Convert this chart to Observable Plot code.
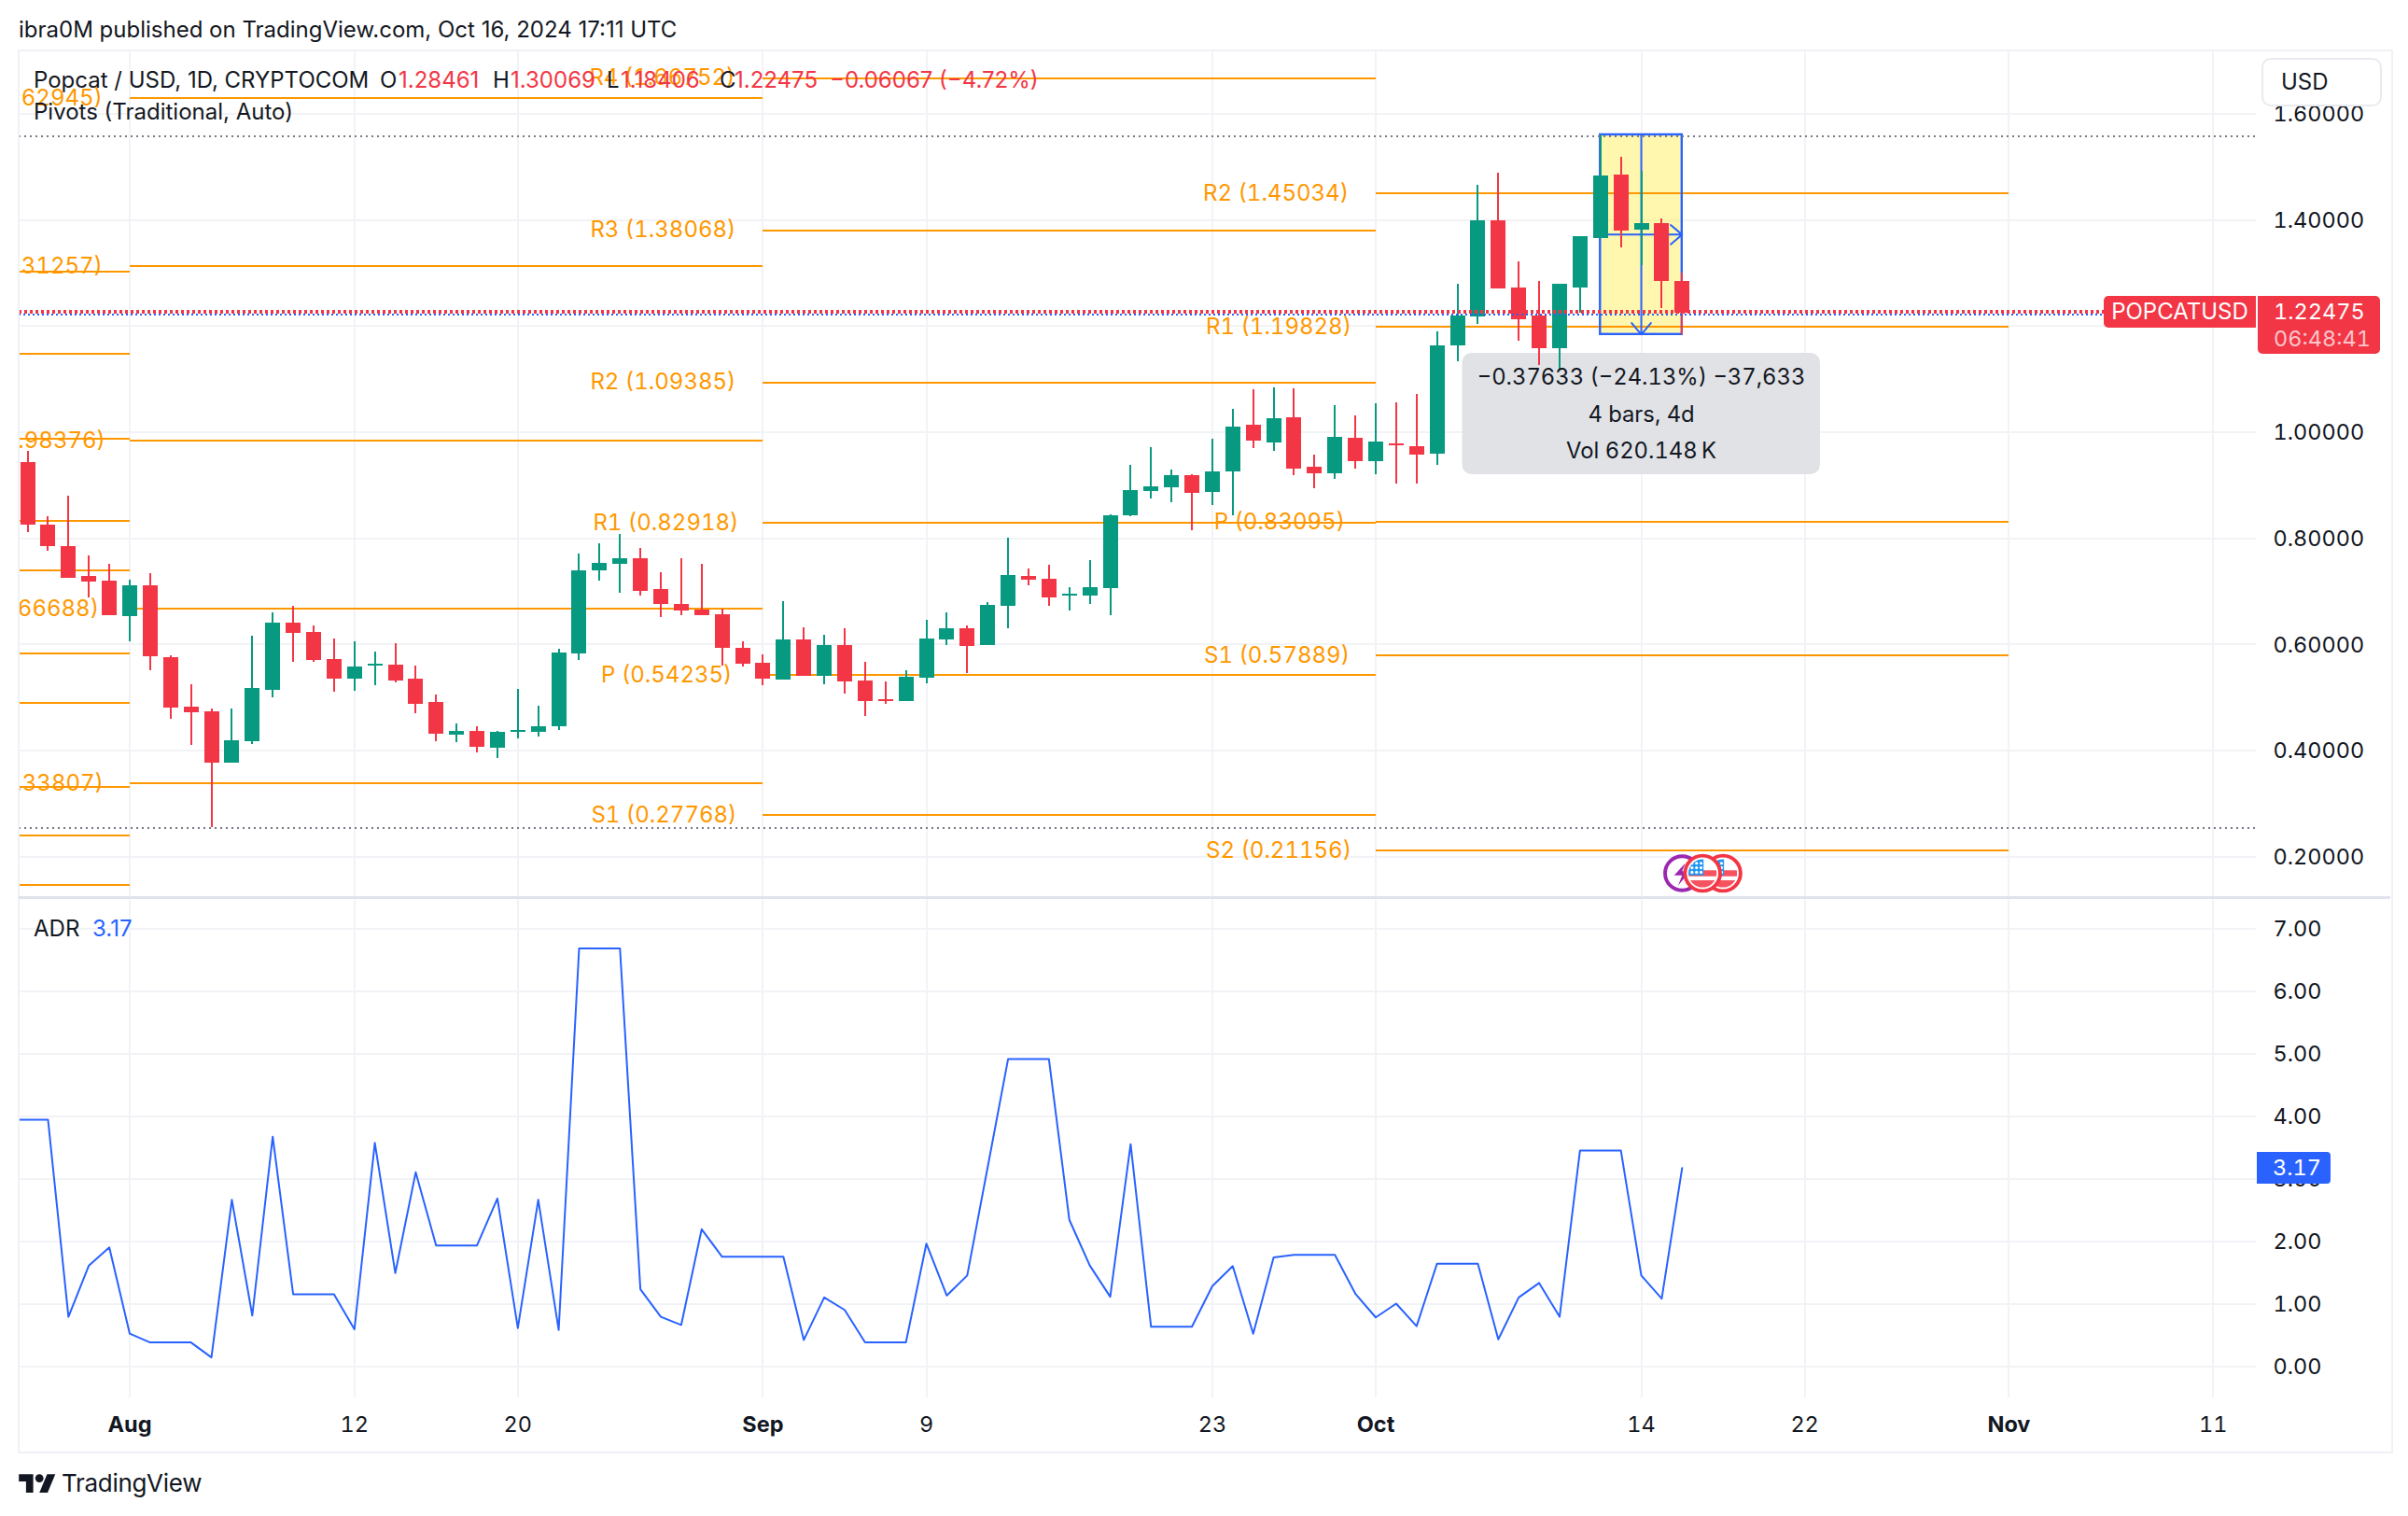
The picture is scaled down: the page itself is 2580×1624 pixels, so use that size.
<!DOCTYPE html>
<html>
<head>
<meta charset="utf-8">
<script src="https://cdn.jsdelivr.net/npm/d3@7"></script>
<script src="https://cdn.jsdelivr.net/npm/@observablehq/plot@0.6"></script>
<style>
  html,body{margin:0;padding:0;background:#fff;}
  #page{position:relative;width:2580px;height:1624px;overflow:hidden;font-family:Inter,"Noto Sans",sans-serif;color:#131722;}
  #page svg{position:absolute;left:0;overflow:visible;background:transparent;}
  .abs{position:absolute;white-space:pre;line-height:1;}
  .tag{position:absolute;background:#f23645;color:#fff;text-align:center;font-size:23.5px;box-sizing:border-box;font-variant-numeric:tabular-nums;}
  [aria-label="measure info"] rect{filter:drop-shadow(0 2px 4px rgba(0,0,0,.12));}
</style>
</head>
<body>
<div id="page"></div>
<script>
// ---- Candles: one row per day from candleStart
const candleStart = "2024-07-27";
const opens = [.943,.825,.784,.728,.719,
 .652,.710,.575,.482,.473,.376,.416,.513,.640,.622,.571,.534,.559,.561,.534,.490,.429,.436,.404,.434,.434,.445,.582,.738,.751,.761,.703,.675,.665,.656,.592,
 .564,.533,.608,.540,.598,.531,.496,.492,.536,.608,.629,.598,.672,.728,.723,.691,.691,.705,.842,.888,.895,.918,.886,.925,1.013,.980,1.027,.934,.921,.988,
 .944,.978,.973,.958,1.163,1.217,1.398,1.272,1.219,1.157,1.272,1.365,1.485,1.381,1.393,1.28461];
const highs = [.964,.840,.879,.767,.751,
 .721,.733,.578,.524,.478,.478,.615,.659,.672,.635,.610,.605,.585,.601,.559,.504,.450,.445,.436,.515,.483,.591,.770,.789,.807,.781,.735,.761,.751,.666,.605,
 .580,.680,.631,.617,.629,.566,.529,.550,.645,.659,.635,.679,.800,.742,.749,.707,.758,.844,.937,.971,.928,.920,.987,1.043,1.080,1.083,1.0815,.957,1.050,1.031,
 1.053,1.055,1.071,1.189,1.279,1.465,1.488,1.321,1.284,1.279,1.368,1.5604,1.518,1.492,1.402,1.30069];
const lows = [.811,.775,.724,.687,.654,
 .605,.550,.459,.409,.2545,.376,.411,.499,.566,.566,.510,.511,.522,.527,.469,.416,.415,.395,.385,.422,.425,.438,.570,.719,.696,.691,.650,.654,.654,.559,.557,
 .522,.533,.540,.524,.506,.464,.487,.492,.526,.598,.545,.598,.629,.710,.672,.663,.675,.654,.841,.874,.867,.814,.862,.842,.969,.964,.918,.893,.911,.930,
 .920,.902,.902,.937,1.133,1.203,1.270,1.171,1.126,1.117,1.224,1.365,1.347,1.314,1.233,1.18406];
const closes = [.825,.785,.724,.717,.654,
 .710,.577,.480,.471,.376,.418,.517,.640,.621,.570,.534,.557,.562,.531,.487,.430,.436,.406,.434,.438,.445,.584,.738,.753,.761,.700,.675,.663,.654,.592,.562,
 .534,.608,.540,.598,.529,.492,.492,.538,.610,.629,.596,.673,.730,.721,.687,.695,.707,.842,.890,.897,.918,.885,.925,1.009,.983,1.025,.930,.921,.990,.944,
 .981,.974,.957,1.163,1.219,1.398,1.270,1.212,1.157,1.279,1.368,1.483,1.379,1.393,1.284,1.22475];

// ---- ADR: one value per day from adrStart
const adrStart = "2024-07-26";
const adrValues = [3.94,3.94,3.94,.79,1.61,1.90,
 .52,.38,.38,.38,.14,2.66,.81,3.67,1.15,1.15,1.15,.59,3.57,1.49,3.10,1.93,1.93,1.93,2.68,.61,2.66,.58,6.68,6.68,6.68,1.23,.79,.66,2.19,1.75,1.75,
 1.75,1.75,.42,1.10,.90,.38,.38,.38,1.96,1.13,1.45,3.18,4.91,4.91,4.91,2.34,1.61,1.11,3.55,.63,.63,.63,1.28,1.60,.52,1.74,1.78,1.78,1.78,1.16,
 .78,1.00,.64,1.64,1.64,1.64,.43,1.10,1.33,.79,3.45,3.45,3.45,1.45,1.08,3.17];

// ---- Pivot levels per monthly period
const julyLevels = [1.303,1.147,.988,.832,.739,.582,.489,.332,.239,.146];
const augNames = ["R3","R2","R1","P","S1"];
const augLevels = [1.62945,1.31257,.98376,.66688,.33807];
const sepNames = ["R4","R3","R2","R1","P","S1"];
const sepLevels = [1.66752,1.38068,1.09385,.82918,.54235,.27768];
const octNames = ["R2","R1","P","S1","S2"];
const octLevels = [1.45034,1.19828,.83095,.57889,.21156];

// ---- Ticks
const priceTicks = [.2,.4,.6,.8,1,1.2,1.4,1.6];
const adrTicks = [0,1,2,3,4,5,6,7];
const monthTicks = ["2024-08-01","2024-09-01","2024-10-01","2024-11-01"];
const dayTicks = ["2024-08-12","2024-08-20","2024-09-09","2024-09-23","2024-10-14","2024-10-22","2024-11-11"];

// ---- Measure drawing and price lines
const measureStart = "2024-10-12", measureMiddle = "2024-10-14", measureEnd = "2024-10-16";
const measureHigh = 1.56039, measureLow = 1.18406;
const highLine = 1.5585, lowLine = 0.2545;
const lastPriceLine = 1.2272, lastBaseLine = 1.2212;
const measureText = ["\u22120.37633 (\u221224.13%) \u221237,633","4 bars, 4d","Vol 620.148\u2009K"];
const measureTextPrices = [1.1027,1.0323,.9637];
const boxLeft = "2024-10-05T06:00:00Z", boxRight = "2024-10-22T18:30:00Z", boxTop = 1.1485, boxBottom = .9198;

// ---- Styles
const green="#089981", red="#f23645", orange="#ff9800", blue="#2962ff", gridC="#f2f3f6", ink="#131722";
const labelGap = {R4:-30,R3:-29,R2:-29,R1:-26,P:-33,S1:-28,S2:-26};
const day = s => new Date(s.length>10 ? s : s+"T00:00:00Z");
const addDays = (s,n) => new Date(+day(s)+n*864e5);
const xDomain = [new Date(+day("2024-08-01")-5.4146*864e5), new Date(+day("2024-08-01")+104.11*864e5)];
const fontStyle = {fontFamily:"Inter, 'Noto Sans', sans-serif", background:"transparent"};
const crisp = {shapeRendering:"crispEdges"};

const candles = opens.map((o,i)=>({date:addDays(candleStart,i),o,h:highs[i],l:lows[i],c:closes[i],col:closes[i]>=o?green:red}));
const adr = adrValues.map((v,i)=>({date:addDays(adrStart,i),v}));
const seg = (names,levels,a,b)=>levels.map((v,i)=>({name:names?names[i]:"",v,a:day(a),b:day(b),label:names?`${names[i]} (${v.toFixed(5)})`:""}));
const pivots = [...seg(null,julyLevels,"2024-07-01","2024-08-01"),
  ...seg(augNames,augLevels,"2024-08-01","2024-09-01"),
  ...seg(sepNames,sepLevels,"2024-09-01","2024-10-01"),
  ...seg(octNames,octLevels,"2024-10-01","2024-11-01")];
const labelled = pivots.filter(d=>d.label);
const labelMarks = Object.keys(labelGap).map(n=>Plot.text(labelled.filter(d=>d.name===n),
  {x:"a",y:"v",text:"label",textAnchor:"end",fill:orange,fontSize:24,fontVariant:"tabular-nums",clip:true,dx:labelGap[n]}));

function coin(kind){
  let inner;
  if(kind==="bolt"){
    inner=`<circle cx="20" cy="20" r="17" fill="#fff" stroke="#9c27b0" stroke-width="3.6"/><path d="M23 10 L12 22 L20 22 L16 32 L28 18 L20 18Z" fill="#9c27b0"/>`;
  }else{
    inner=`<circle cx="20" cy="20" r="17.5" fill="#fff" stroke="#f23645" stroke-width="3.6"/>
    <clipPath id="c"><circle cx="20" cy="20" r="14"/></clipPath><g clip-path="url(#c)">
    <rect x="5" y="17" width="30" height="6" fill="#f7525f"/><rect x="5" y="27" width="30" height="9" fill="#f7525f"/>
    <rect x="5" y="4" width="16" height="18" fill="#2196f3"/>
    <g fill="#fff"><circle cx="9.5" cy="10" r="1.5"/><circle cx="14" cy="10" r="1.5"/><circle cx="18.5" cy="10" r="1.5"/><circle cx="9.5" cy="14.5" r="1.5"/><circle cx="14" cy="14.5" r="1.5"/><circle cx="18.5" cy="14.5" r="1.5"/><circle cx="9.5" cy="19" r="1.5"/><circle cx="14" cy="19" r="1.5"/><circle cx="18.5" cy="19" r="1.5"/></g></g>`;
  }
  return "data:image/svg+xml,"+encodeURIComponent(`<svg xmlns="http://www.w3.org/2000/svg" width="40" height="40" viewBox="0 0 40 40">${inner}</svg>`);
}
const eventsY = .1684;
const events = [{d:"2024-10-16",k:"bolt"},{d:"2024-10-18",k:"flag"},{d:"2024-10-17",k:"flag"}];

const priceChart = Plot.plot({
  width:2580,height:907,marginLeft:20,marginRight:163,marginTop:0,marginBottom:0,style:fontStyle,
  x:{type:"utc",domain:xDomain,axis:null},
  y:{domain:[.12265,1.71864],axis:null},
  marks:[
    Plot.ruleY(priceTicks,{stroke:gridC,strokeWidth:2,...crisp}),
    Plot.ruleX([...monthTicks,...dayTicks].map(day),{stroke:gridC,strokeWidth:2,...crisp}),
    Plot.rect([0],{x1:()=>day(measureStart),x2:()=>day(measureEnd),y1:()=>measureLow,y2:()=>measureHigh,fill:"#ffeb3b",fillOpacity:.42}),
    Plot.ruleY(pivots,{y:"v",x1:"a",x2:"b",stroke:orange,strokeWidth:2,clip:true,...crisp}),
    ...labelMarks,
    Plot.rect([0],{x1:()=>day(measureStart),x2:()=>day(measureEnd),y1:()=>measureLow,y2:()=>measureHigh,fill:"none",stroke:blue,strokeWidth:2.4}),
    Plot.arrow([0],{x1:()=>day(measureStart),x2:()=>day(measureEnd),y1:()=>(measureHigh+measureLow)/2,y2:()=>(measureHigh+measureLow)/2,stroke:blue,strokeWidth:2,headLength:12,headAngle:80}),
    Plot.arrow([0],{x1:()=>day(measureMiddle),x2:()=>day(measureMiddle),y1:()=>measureHigh,y2:()=>measureLow,stroke:blue,strokeWidth:2,headLength:12,headAngle:80}),
    Plot.rect([0],{ariaLabel:"measure info",x1:()=>day(boxLeft),x2:()=>day(boxRight),y1:()=>boxBottom,y2:()=>boxTop,fill:"#e0e1e5",fillOpacity:.97,rx:10}),
    Plot.ruleX(candles,{x:"date",y1:"l",y2:"h",stroke:"col",strokeWidth:2,...crisp}),
    Plot.ruleX(candles,{x:"date",y1:"o",y2:"c",stroke:"col",strokeWidth:16,...crisp}),
    Plot.ruleY([highLine,lowLine],{stroke:"#787b86",strokeWidth:2,strokeDasharray:"2 4",...crisp}),
    Plot.ruleY([lastPriceLine],{stroke:red,strokeWidth:4,strokeDasharray:"3 3",...crisp}),
    Plot.ruleY([lastBaseLine],{stroke:blue,strokeWidth:2,strokeDasharray:"2 3",...crisp}),
    Plot.text(measureText,{x:()=>day(measureMiddle),y:(d,i)=>measureTextPrices[i],text:d=>d,fill:ink,fontSize:23.8,fontVariant:"tabular-nums"}),
    Plot.image(events,{x:d=>day(d.d),y:()=>eventsY,src:d=>coin(d.k),width:43,height:43}),
    Plot.axisY({anchor:"right",ticks:priceTicks,tickSize:0,tickPadding:18,tickFormat:d3.format(".5f"),label:null,fontSize:23.5,color:ink,textAnchor:"start",dy:1})
  ]
});
priceChart.style.top="54px";

const adrChart = Plot.plot({
  width:2580,height:593,marginLeft:20,marginRight:163,marginTop:0,marginBottom:57,style:fontStyle,
  x:{type:"utc",domain:xDomain,axis:null},
  y:{domain:[-.507,7.493],axis:null},
  marks:[
    Plot.ruleY(adrTicks,{stroke:gridC,strokeWidth:2,...crisp}),
    Plot.ruleX([...monthTicks,...dayTicks].map(day),{stroke:gridC,strokeWidth:2,...crisp}),
    Plot.line(adr,{x:"date",y:"v",stroke:blue,strokeWidth:2,clip:true}),
    Plot.axisY({anchor:"right",ticks:adrTicks,tickSize:0,tickPadding:18,tickFormat:d3.format(".2f"),label:null,fontSize:23.5,color:ink,textAnchor:"start",dy:1}),
    Plot.axisX({ticks:dayTicks.map(day),tickSize:0,tickPadding:20,tickFormat:d3.utcFormat("%-d"),label:null,fontSize:23.5,color:ink}),
    Plot.axisX({ticks:monthTicks.map(day),tickSize:0,tickPadding:20,tickFormat:d3.utcFormat("%b"),label:null,fontSize:23.5,color:ink,fontWeight:700})
  ]
});
adrChart.style.top="961px";

const page = document.getElementById("page");
page.append(priceChart, adrChart);

function html(s){ page.insertAdjacentHTML("beforeend", s); }
// frame
html(`<div class="abs" style="left:19px;top:53px;width:2541px;height:1500px;border:2px solid #f0f1f6;box-sizing:content-box"></div>`);
html(`<div class="abs" style="left:20px;top:960px;width:2541px;height:3px;background:#e0e3eb"></div>`);
// header
html(`<div class="abs" style="left:20px;top:20px;font-size:24px">ibra0M published on TradingView.com, Oct 16, 2024 17:11 UTC</div>`);
const legendBits = [["Popcat / USD, 1D, CRYPTOCOM",36,ink],["O",407,ink],["1.28461",427,red],["H",528,ink],["1.30069",547,red],["L",650,ink],["1.18406",665,red],["C",771,ink],["1.22475",787,red],["\u22120.06067 (\u22124.72%)",889,red]];
legendBits.forEach(([t,x,c])=>html(`<div class="abs" style="left:${x}px;top:74px;font-size:24px;color:${c}">${t}</div>`));
html(`<div class="abs" style="left:36px;top:108px;font-size:24px">Pivots (Traditional, Auto)</div>`);
html(`<div class="abs" style="left:36px;top:983px;font-size:24px">ADR</div><div class="abs" style="left:99px;top:983px;font-size:24px;color:${blue}">3.17</div>`);
// USD button
html(`<div class="abs" style="left:2423px;top:62px;width:129px;height:52px;background:#fff;border:2px solid #e9eaf0;border-radius:10px;box-sizing:border-box;font-size:24px;line-height:48px;padding-left:19px">USD</div>`);
// price tags
html(`<div class="tag" style="left:2254px;top:317px;width:163px;height:34px;line-height:34px;border-radius:5px 0 0 5px;font-size:24px">POPCATUSD</div>`);
html(`<div class="tag" style="left:2419px;top:317px;width:131px;height:62px;border-radius:0 5px 5px 5px;line-height:34px;text-align:left;padding-left:17px">1.22475<br><span style="color:#fbc5ca;line-height:28px;display:block;margin-top:-2px">06:48:41</span></div>`);
html(`<div class="tag" style="left:2418px;top:1234px;width:79px;height:34px;line-height:34px;background:${blue};border-radius:0 4px 4px 0;text-align:left;padding-left:17px">3.17</div>`);
// footer
html(`<svg style="left:20px;top:1577px" width="40" height="22" viewBox="0 0 36 20"><path d="M14 20H7V9H0V2h14v18zM28 20h-8l7.5-18h8L28 20z" fill="${ink}"/><circle cx="20" cy="6" r="4" fill="${ink}"/></svg>`);
html(`<div class="abs" style="left:66px;top:1576px;font-size:26px;letter-spacing:-.3px">TradingView</div>`);
</script>
</body>
</html>
